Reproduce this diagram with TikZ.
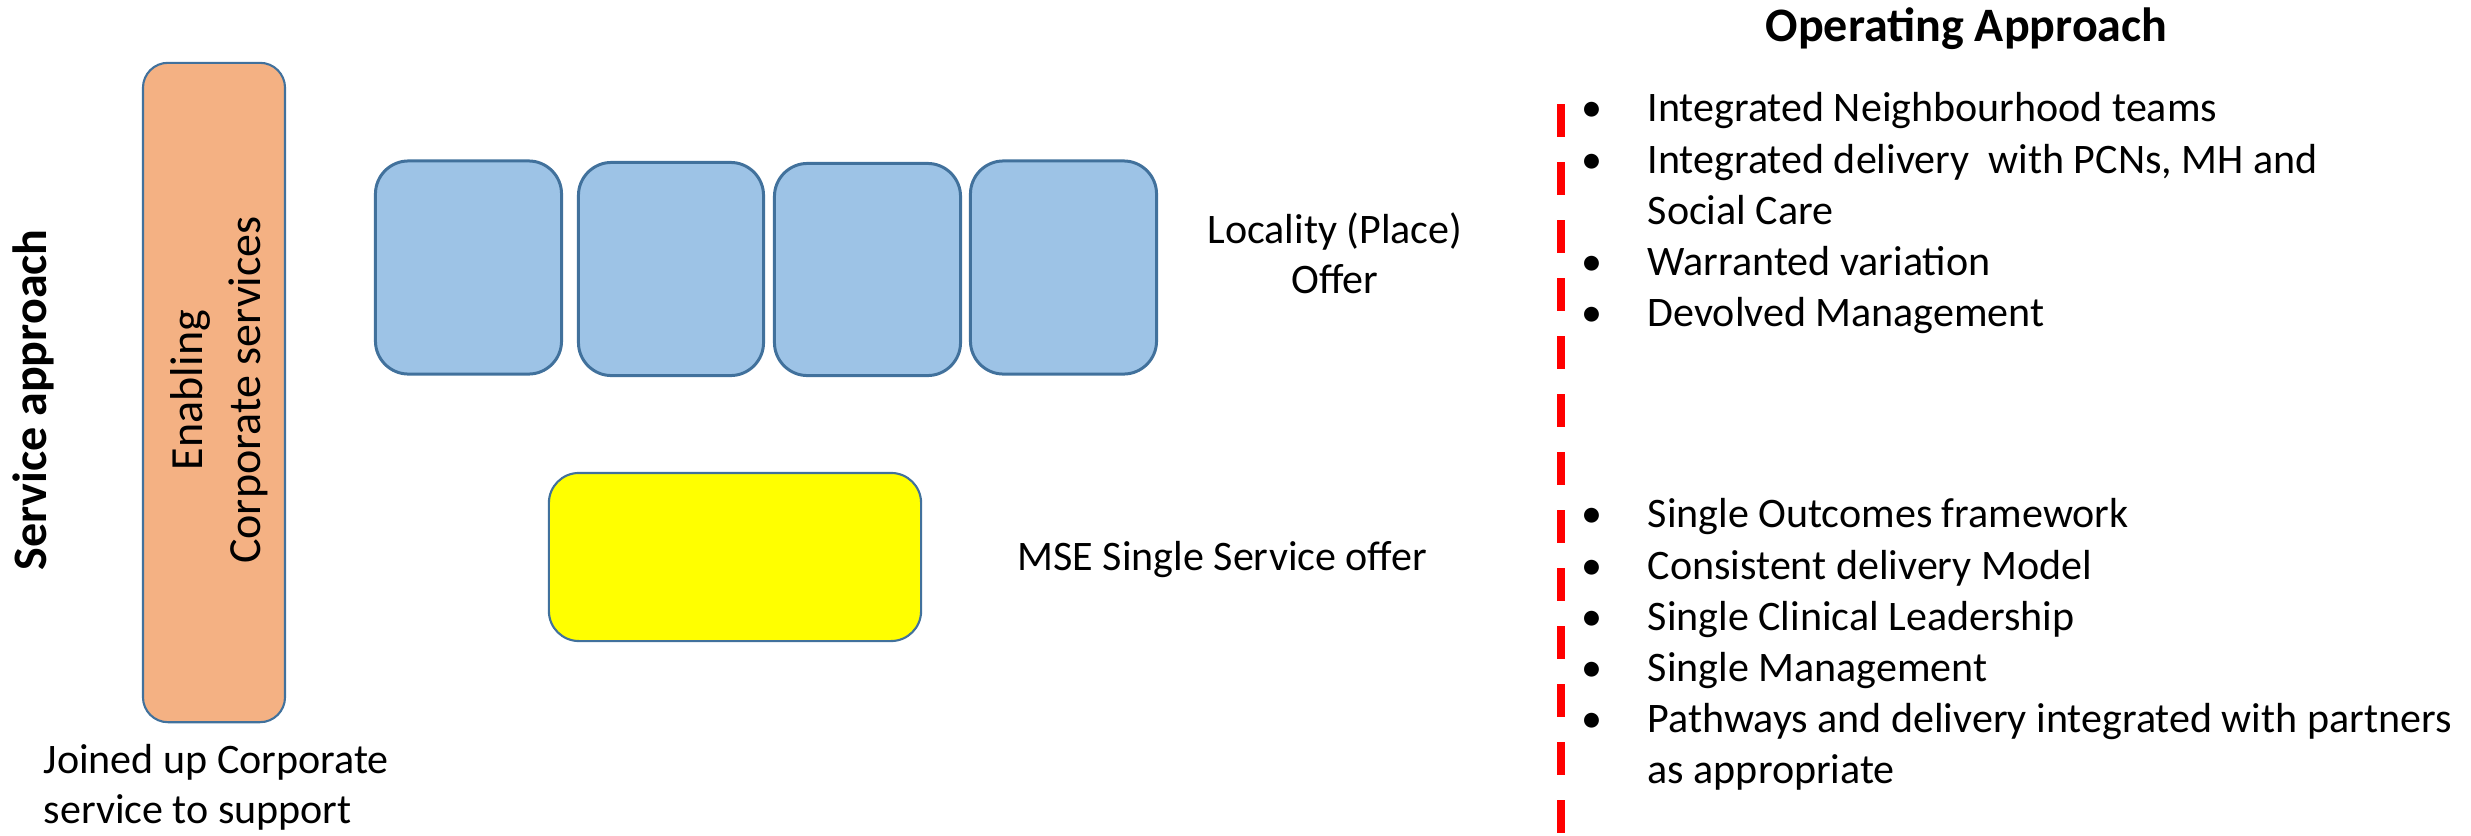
\documentclass[tikz,border=0pt]{standalone}
\usepackage{fontspec}
\setmainfont{Carlito}
\definecolor{bluefill}{HTML}{9DC3E6}
\definecolor{boxedge}{HTML}{41719C}
\definecolor{orangefill}{HTML}{F4B183}
\definecolor{yellowfill}{HTML}{FFFF00}
\definecolor{dashred}{HTML}{FF0000}
\begin{document}
\begin{tikzpicture}[x=0.01cm,y=-0.01cm,
  bluebox/.style={draw=boxedge, fill=bluefill, line width=0.85pt, rounded corners=0.33cm, inner sep=0pt},
  orangebox/.style={draw=boxedge, fill=orangefill, line width=0.6pt, rounded corners=0.25cm, inner sep=0pt},
  yellowbox/.style={draw=boxedge, fill=yellowfill, line width=0.6pt, rounded corners=0.3cm, inner sep=0pt},
  txt/.style={font=\fontsize{11.95pt}{14.5pt}\selectfont, inner sep=0pt, text=black},
  headtxt/.style={font=\fontsize{13.66pt}{16.5pt}\selectfont\bfseries, inner sep=0pt, text=black},
  reddash/.style={draw=dashred, line width=2.28pt, dash pattern=on 0.33cm off 0.25cm},
]
\path[use as bounding box] (0,0) rectangle (2471,836);

% left heading
\node[headtxt, rotate=90, anchor=base] (svc) at (47,400) {Service approach};

% orange enabling box
\node[orangebox, minimum width=1.42cm, minimum height=6.59cm] (corp) at (214,392.5) {};
\node[font=\fontsize{13.1pt}{16.5pt}\selectfont, inner sep=0pt, rotate=90, align=center] (corptxt) at (219,390) {Enabling\\Corporate services};

\node[txt, anchor=base west] (join1) at (43,773) {Joined up Corporate};
\node[txt, anchor=base west] (join2) at (43,823) {service to support};

% locality boxes
\node[bluebox, minimum width=1.86cm, minimum height=2.13cm] (loc1) at (468.5,267.5) {};
\node[bluebox, minimum width=1.85cm, minimum height=2.13cm] (loc2) at (671,269) {};
\node[bluebox, minimum width=1.86cm, minimum height=2.12cm] (loc3) at (867.5,269.5) {};
\node[bluebox, minimum width=1.86cm, minimum height=2.13cm] (loc4) at (1063.5,267.5) {};
\node[txt, anchor=base] (loctxt1) at (1335,243) {Locality (Place)};
\node[txt, anchor=base] (loctxt2) at (1335,293) {Offer};

% MSE box
\node[yellowbox, minimum width=3.72cm, minimum height=1.68cm] (mse) at (735,557) {};
\node[txt, anchor=base west] (msetxt) at (1017,570) {MSE Single Service offer};

% divider
\coordinate (dtop) at (1561,104);
\coordinate (dbot) at (1561,840);
\draw[reddash] (dtop) -- (dbot);

% operating approach
\node[headtxt, anchor=base west] (ophead) at (1765,41) {Operating Approach};

\foreach \y/\t/\n in {121/Integrated Neighbourhood teams/a1, 173/{Integrated delivery\ \ with PCNs, MH and}/a2, 275/Warranted variation/a3, 326/Devolved Management/a4,
  527/Single Outcomes framework/b1, 579/Consistent delivery Model/b2, 630/Single Clinical Leadership/b3, 681/Single Management/b4, 732/Pathways and delivery integrated with partners/b5}{
  \node[txt, anchor=base] (bul\n) at (1592,\y) {\textbullet};
  \node[txt, anchor=base west] (item\n) at (1647,\y) {\t};
}
\node[txt, anchor=base west] (itema2b) at (1647,224) {Social Care};
\node[txt, anchor=base west] (itemb5b) at (1647,783) {as appropriate};
\end{tikzpicture}
\end{document}
